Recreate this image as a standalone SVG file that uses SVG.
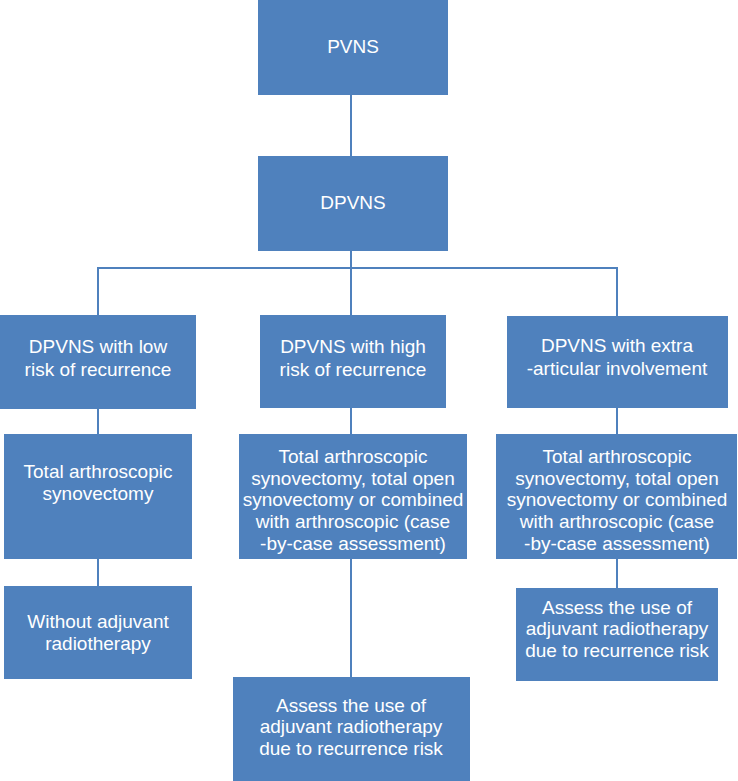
<svg xmlns="http://www.w3.org/2000/svg" width="738" height="781" viewBox="0 0 738 781">
<style>
.box{fill:#4F81BD}
.t{fill:#ffffff;font-family:"Liberation Sans",Arial,sans-serif;font-size:19px;text-anchor:middle}
.c{stroke:#4F81BD;stroke-width:2;fill:none}
</style>
<rect width="738" height="781" fill="#ffffff"/>
<g id="connectors">
<path class="c" d="M351,95V156"/>
<path class="c" d="M351,251V315"/>
<path class="c" d="M98,315V268H617V316"/>
<path class="c" d="M98,409V434"/>
<path class="c" d="M351,408V434"/>
<path class="c" d="M617,408V434"/>
<path class="c" d="M98,559V586"/>
<path class="c" d="M351,559V677"/>
<path class="c" d="M617,559V588"/>
</g>
<g id="pvns"><rect class="box" x="258" y="0" width="190" height="95"/><text class="t" x="353" y="53">PVNS</text></g>
<g id="dpvns"><rect class="box" x="258" y="156" width="190" height="95"/><text class="t" x="353" y="209">DPVNS</text></g>
<g id="low"><rect class="box" x="0" y="315" width="196" height="94"/><text class="t" x="98" y="353">DPVNS with low</text><text class="t" x="98" y="376">risk of recurrence</text></g>
<g id="high"><rect class="box" x="260" y="315" width="186" height="93"/><text class="t" x="353" y="353">DPVNS with high</text><text class="t" x="353" y="376">risk of recurrence</text></g>
<g id="extra"><rect class="box" x="507" y="316" width="221" height="92"/><text class="t" x="617" y="352">DPVNS with extra</text><text class="t" x="617" y="375">-articular involvement</text></g>
<g id="low-surgery"><rect class="box" x="4" y="434" width="188" height="125"/><text class="t" x="98" y="478">Total arthroscopic</text><text class="t" x="98" y="500">synovectomy</text></g>
<g id="high-surgery"><rect class="box" x="239" y="434" width="228" height="125"/><text class="t" x="353" y="463">Total arthroscopic</text><text class="t" x="353" y="485">synovectomy, total open</text><text class="t" x="353" y="506">synovectomy or combined</text><text class="t" x="353" y="528">with arthroscopic (case</text><text class="t" x="353" y="550">-by-case assessment)</text></g>
<g id="extra-surgery"><rect class="box" x="496" y="434" width="241" height="125"/><text class="t" x="617" y="463">Total arthroscopic</text><text class="t" x="617" y="485">synovectomy, total open</text><text class="t" x="617" y="506">synovectomy or combined</text><text class="t" x="617" y="528">with arthroscopic (case</text><text class="t" x="617" y="550">-by-case assessment)</text></g>
<g id="low-radio"><rect class="box" x="4" y="586" width="188" height="93"/><text class="t" x="98" y="628">Without adjuvant</text><text class="t" x="98" y="650">radiotherapy</text></g>
<g id="extra-radio"><rect class="box" x="516" y="588" width="202" height="93"/><text class="t" x="617" y="614">Assess the use of</text><text class="t" x="617" y="635">adjuvant radiotherapy</text><text class="t" x="617" y="657">due to recurrence risk</text></g>
<g id="high-radio"><rect class="box" x="233" y="677" width="237" height="104"/><text class="t" x="351" y="712">Assess the use of</text><text class="t" x="351" y="733">adjuvant radiotherapy</text><text class="t" x="351" y="755">due to recurrence risk</text></g>
</svg>
